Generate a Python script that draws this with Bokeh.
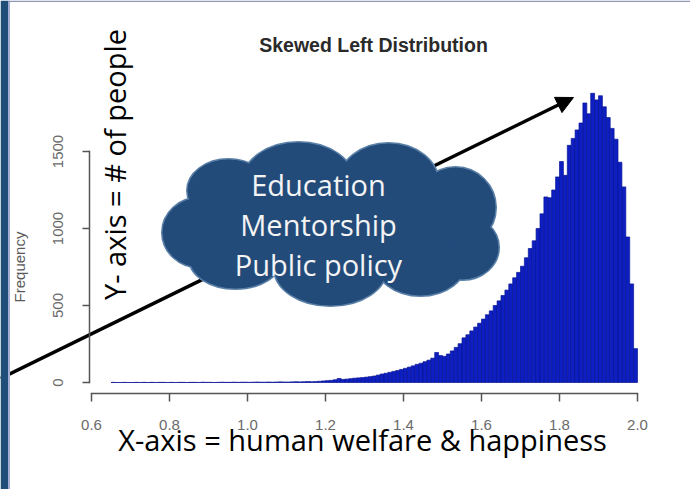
import numpy as np
from bokeh.plotting import figure
from bokeh.models import (Range1d, FixedTicker, PrintfTickFormatter, Label, Arrow,
                          NormalHead, BoxAnnotation)
from bokeh.embed import file_html
from bokeh.resources import INLINE

# ---------------- data ----------------
TITLE = "Skewed Left Distribution"
Y_LABEL = "Frequency"
BIN_START = 0.65
BIN_WIDTH = 0.01
counts_low = [1, 0, 0, 1, 0, 0, 1, 0, 1, 0,
              1, 0, 1, 1, 0, 1, 0, 1, 1, 0,
              1, 1, 0, 2, 1, 1, 0, 1, 2, 1,
              1, 2, 1, 2, 2, 1, 2, 3, 2, 2,
              3, 2, 3, 4, 3, 3, 4, 5, 4, 5,
              6, 5]
counts_high = [6, 8, 10, 12, 14, 18, 26, 20, 22, 25,
               28, 30, 32, 35, 38, 42, 48, 55, 60, 66,
               72, 78, 85, 92, 100, 108, 118, 125, 135, 145,
               158, 195, 175, 170, 185, 205, 228, 252, 290, 310,
               335, 360, 385, 412, 440, 465, 500, 530, 565, 600,
               640, 680, 715, 755, 810, 870, 920, 1000, 1095, 1205,
               1200, 1250, 1335, 1435, 1345, 1540, 1585, 1640, 1685, 1815,
               1745, 1878, 1835, 1862, 1790, 1720, 1650, 1580, 1430, 1270,
               945, 640, 220]
x_ticks = [0.6, 0.8, 1.0, 1.2, 1.4, 1.6, 1.8, 2.0]
y_ticks = [0, 500, 1000, 1500]
cloud_lines = ["Education", "Mentorship", "Public policy"]
y_note = "Y- axis = # of people"
x_note = "X-axis = human welfare & happiness"

counts = np.array(counts_low + counts_high, dtype=float)
left = np.round(BIN_START + BIN_WIDTH * np.arange(len(counts)), 4)
right = np.round(left + BIN_WIDTH, 4)

# ---------------- layout helpers (page pixel -> data) ----------------
PPX = 390.0
PPY = 77.0 / 500.0
def dx(px):
    return 0.6 + (px - 91) / PPX
def dy(py):
    return (382 - py) / PPY

W, H = 690, 489

p = figure(width=W, height=H, output_backend="svg", toolbar_location=None,
           x_range=Range1d(dx(0), dx(W)), y_range=Range1d(dy(H), dy(0)),
           min_border=0)
p.background_fill_color = "#ffffff"
p.border_fill_color = "#ffffff"
p.outline_line_color = None
p.grid.visible = False

AX = "#555555"
for ax in (p.xaxis[0], p.yaxis[0]):
    ax.axis_line_color = None
    ax.major_tick_line_color = None
    ax.major_tick_in = 0
    ax.minor_tick_line_color = None
    ax.major_label_text_font = "Liberation Sans"
    ax.major_label_text_font_size = "15px"
    ax.major_label_text_color = "#6a6a6a"

X_AXIS_Y = dy(393)
Y_AXIS_X = dx(89)

p.xaxis[0].fixed_location = X_AXIS_Y
p.xaxis[0].ticker = FixedTicker(ticks=x_ticks)
p.xaxis[0].formatter = PrintfTickFormatter(format="%.1f")
p.xaxis[0].bounds = (x_ticks[0], x_ticks[-1])
p.xaxis[0].major_tick_out = 8
p.xaxis[0].major_label_standoff = 18

p.yaxis[0].fixed_location = Y_AXIS_X
p.yaxis[0].ticker = FixedTicker(ticks=y_ticks)
p.yaxis[0].bounds = (y_ticks[0], y_ticks[-1])
p.yaxis[0].major_tick_out = 7
p.yaxis[0].major_label_orientation = "vertical"
p.yaxis[0].major_label_standoff = 20
p.yaxis[0].axis_label = Y_LABEL
p.yaxis[0].axis_label_text_font = "Liberation Sans"
p.yaxis[0].axis_label_text_font_size = "15px"
p.yaxis[0].axis_label_text_font_style = "normal"
p.yaxis[0].axis_label_text_color = "#5a5a5a"
p.yaxis[0].axis_label_standoff = 22

# axis rules and ticks (R style) as thin boxes built from the tick arrays
HX = 0.75 / PPX
HY = 0.75 / PPY
def bar(l, r, b, t):
    p.add_layout(BoxAnnotation(left=l, right=r, bottom=b, top=t, fill_color=AX,
                               fill_alpha=1, line_color=None, level="overlay"))

bar(x_ticks[0] - HX, x_ticks[-1] + HX, X_AXIS_Y - HY, X_AXIS_Y + HY)
for t in x_ticks:
    bar(t - HX, t + HX, dy(401), X_AXIS_Y)
bar(Y_AXIS_X - HX, Y_AXIS_X + HX, y_ticks[0] - HY, y_ticks[-1] + HY)
for t in y_ticks:
    bar(dx(82), Y_AXIS_X, t - HY, t + HY)

# slide edges
p.add_layout(BoxAnnotation(left=dx(0), right=dx(7.5), top=dy(0), bottom=dy(H),
                           fill_color="#1f4e79", fill_alpha=1, line_color=None))
p.add_layout(BoxAnnotation(left=dx(7.5), right=dx(9.5), top=dy(0), bottom=dy(H),
                           fill_color="#a3acd2", fill_alpha=1, line_color=None))
p.add_layout(BoxAnnotation(left=dx(7.5), right=dx(W), top=dy(0), bottom=dy(1.5),
                           fill_color="#8f97b8", fill_alpha=1, line_color=None))

# title
p.add_layout(Label(x=dx(373), y=dy(44), text=TITLE, text_align="center",
                   text_baseline="middle", text_font="Liberation Sans",
                   text_font_size="19.5px", text_font_style="bold", text_color="#2a2a2a"))

# arrow (under glyphs)
p.add_layout(Arrow(end=NormalHead(size=17, fill_color="black", line_color="black"),
                   x_start=dx(0), y_start=dy(378), x_end=dx(573), y_end=dy(97),
                   line_color="black", line_width=3.5, level="underlay"))

# histogram
p.quad(left=left, right=right, bottom=0, top=counts,
       fill_color="#0d1fc2", line_color="#0a1694", line_width=0.7)

# cloud
lobes = [(200, 232, 76, 70), (228, 190, 82, 62), (298, 182, 112, 80),
         (388, 183, 100, 80), (455, 207, 80, 80), (462, 247, 72, 64),
         (420, 260, 92, 70), (330, 268, 112, 74), (235, 258, 92, 60)]
CF = "#234b7a"
lx = [dx(a[0]) for a in lobes]
ly = [dy(a[1]) for a in lobes]
lw = [a[2] / PPX for a in lobes]
lh = [a[3] / PPY for a in lobes]
p.ellipse(x=lx, y=ly, width=lw, height=lh, fill_color=CF, line_color="#5b80a8", line_width=3)
p.ellipse(x=lx, y=ly, width=lw, height=lh, fill_color=CF, line_color=None)
p.ellipse(x=[dx(325)], y=[dy(225)], width=[270 / PPX], height=[104 / PPY],
          fill_color=CF, line_color=None)

for txt, yy in zip(cloud_lines, [184, 224, 264]):
    p.add_layout(Label(x=dx(318), y=dy(yy), text=txt, text_align="center",
                       text_baseline="middle", text_font="Open Sans",
                       text_font_size="29px", text_color="#f4f4f4"))

p.add_layout(Label(x=dx(114), y=dy(164), text=y_note, angle=np.pi / 2,
                   text_align="center", text_baseline="middle",
                   text_font="Open Sans", text_font_size="29px", text_color="black"))
p.add_layout(Label(x=dx(362), y=dy(439), text=x_note, text_align="center",
                   text_baseline="middle", text_font="Open Sans",
                   text_font_size="29px", text_color="black"))

open("out.html", "w").write(file_html(p, INLINE))
